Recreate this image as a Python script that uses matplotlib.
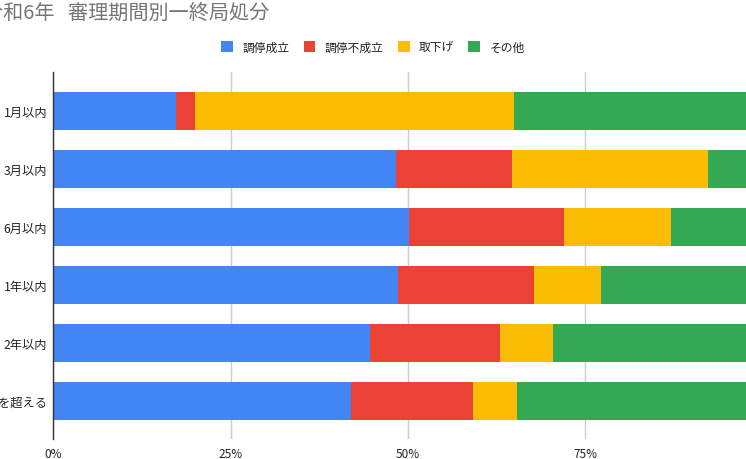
#!/usr/bin/env python3
"""
令和6年 審理期間別 終局処分の割合 (100% stacked bar).
"""

import matplotlib
matplotlib.use("Agg")
import matplotlib.pyplot as plt
from matplotlib.patches import Patch
from matplotlib.ticker import PercentFormatter

plt.rcParams['font.family'] = ['Noto Sans CJK JP', 'DejaVu Sans']

categories = ["1月以内", "3月以内", "6月以内", "1年以内", "2年以内", "2年を超える"]
series_names = ["調停成立", "調停不成立", "取下げ", "その他"]

# percent of cases per category
seitei = [17.3, 48.3, 50.2, 48.6, 44.7, 42.0]
fuseiritsu = [2.7, 16.4, 21.8, 19.2, 18.3, 17.1]
torisage = [45.0, 27.6, 15.1, 9.4, 7.5, 6.2]
sonota = [35.0, 7.7, 12.9, 22.8, 29.5, 34.7]

# 100% lies just past the right edge of the cropped picture
x_ticks = [0, 25, 50, 75]

colors = ['#4285F4', '#EA4335', '#FBBC04', '#34A853']
text_color = '#222222'

fig = plt.figure(figsize=(7.46, 4.6), dpi=100)
# axes deliberately runs past the right edge (chart is cropped in the reference)
ax = fig.add_axes([53.3 / 746, 1 - 440 / 460, 709.4 / 746, 367.3 / 460])

y = list(range(len(categories)))
left = [0.0] * len(categories)
for values, name, color in zip([seitei, fuseiritsu, torisage, sonota], series_names, colors):
    ax.barh(y, values, left=left, height=0.65, color=color, label=name, zorder=2)
    left = [l + v for l, v in zip(left, values)]

ax.set_xlim(0, 100)
ax.set_ylim(len(categories) - 1 + 0.66, -0.68)
ax.set_yticks(y)
ax.set_yticklabels(categories, fontsize=8.8, color=text_color)
ax.set_xticks(x_ticks)
ax.xaxis.set_major_formatter(PercentFormatter(decimals=0))
ax.tick_params(axis='x', labelsize=8.5, colors=text_color, length=0, pad=6)
ax.tick_params(axis='y', length=0, pad=4.5)

ax.grid(axis='x', color='#cccccc', linewidth=1, zorder=0)
for side in ['top', 'right', 'bottom']:
    ax.spines[side].set_visible(False)
ax.spines['left'].set_color('#333333')
ax.spines['left'].set_linewidth(1)
ax.spines['left'].set_zorder(3)

fig.text(-17 / 746, 1 - 13.5 / 460, "令和6年   審理期間別一終局処分", fontsize=14.5,
         color='#757575', ha='left', va='center')

handles = [Patch(facecolor=c, edgecolor='none') for c in colors]
fig.legend(handles, series_names, loc='center', bbox_to_anchor=(0.5, 1 - 48 / 460),
           ncol=4, frameon=False, fontsize=8.5, handlelength=1.0, handleheight=1.0,
           handletextpad=0.8, columnspacing=1.2, labelcolor=text_color)

fig.savefig("out.png", dpi=100)
